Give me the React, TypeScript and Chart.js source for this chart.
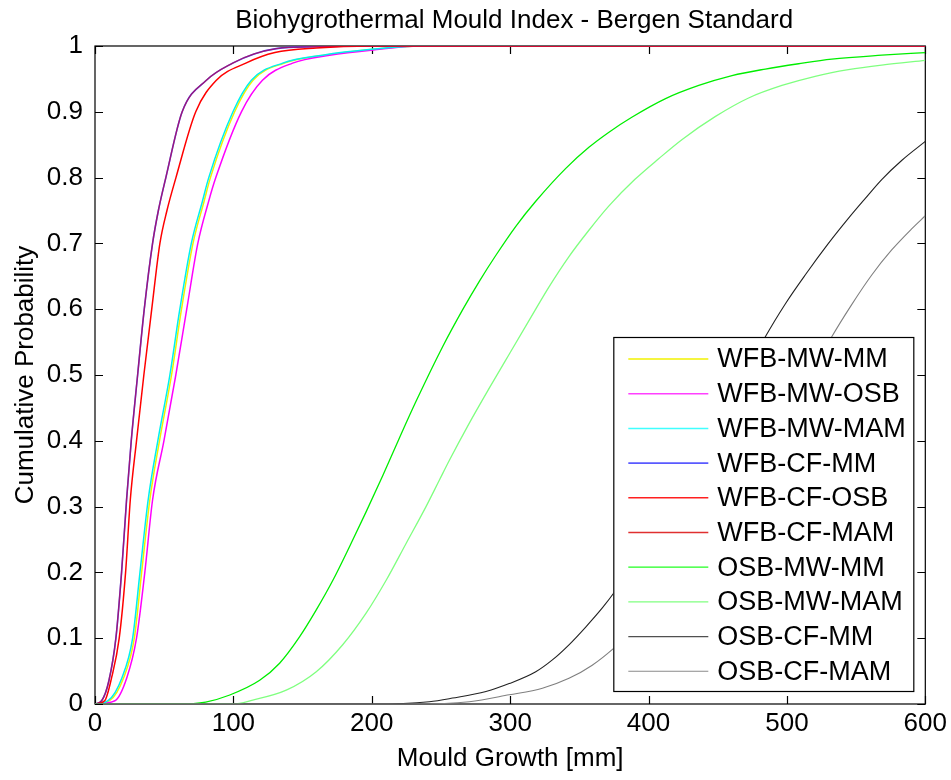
import React, { useEffect, useRef } from 'react';
import { Chart, registerables } from 'chart.js';

Chart.register(...registerables);

const FONT = "'Liberation Sans', Arial, Helvetica, sans-serif";
const TITLE = 'Biohygrothermal Mould Index - Bergen Standard';
const X_LABEL = 'Mould Growth [mm]';
const Y_LABEL = 'Cumulative Probability';

const X_MIN = 0;
const X_MAX = 600;
const X_STEP = 100;
const Y_MIN = 0;
const Y_MAX = 1;
const Y_STEP = 0.1;

const SERIES_LABELS = [
  'WFB-MW-MM',
  'WFB-MW-OSB',
  'WFB-MW-MAM',
  'WFB-CF-MM',
  'WFB-CF-OSB',
  'WFB-CF-MAM',
  'OSB-MW-MM',
  'OSB-MW-MAM',
  'OSB-CF-MM',
  'OSB-CF-MAM',
];
const SERIES_COLORS = [
  '#f2f200',
  '#ff00ff',
  '#00f0f0',
  '#3c3cff',
  '#ff0000',
  'rgba(215,0,40,0.62)',
  '#00ee00',
  '#80ff80',
  '#222222',
  '#808080',
];
const LEGEND_COLORS = [
  '#f2f200',
  '#ff40ff',
  '#40ffff',
  '#5a5aff',
  '#ff2020',
  '#e03030',
  '#20ff20',
  '#80ff80',
  '#505050',
  '#8a8a8a',
];
const SERIES_WIDTHS = [1.5, 1.5, 1.5, 1.6, 1.5, 1.4, 1.3, 1.3, 1.1, 1.1];

// WFB-MW-MM
const wfbMwMmX = [0, 10.5, 20.7, 28.4, 33.7, 39.6, 46.6, 55.3, 62.5, 70.8, 78.7, 83.4, 100.9, 114.2, 136.8, 165.6, 201, 235, 600];
const wfbMwMmY = [0, 0.005, 0.04, 0.1, 0.2, 0.31, 0.4, 0.5, 0.6, 0.7, 0.763, 0.8, 0.9, 0.948, 0.974, 0.986, 0.995, 1, 1];
// WFB-MW-OSB
const wfbMwOsbX = [0, 14.4, 23, 30, 36, 41.6, 49.8, 58.4, 66.3, 74.3, 82, 87.3, 105.8, 121, 142.8, 169.5, 205.5, 234.4, 600];
const wfbMwOsbY = [0, 0.005, 0.04, 0.1, 0.2, 0.31, 0.4, 0.5, 0.6, 0.7, 0.763, 0.8, 0.9, 0.948, 0.974, 0.986, 0.995, 1, 1];
// WFB-MW-MAM
const wfbMwMamX = [0, 9.4, 19.5, 27.2, 32.5, 38.4, 45.4, 54.1, 61.3, 69.6, 77.5, 82.2, 99.7, 113, 135.6, 164.4, 199.8, 234.4, 600];
const wfbMwMamY = [0, 0.005, 0.04, 0.1, 0.2, 0.31, 0.4, 0.5, 0.6, 0.7, 0.763, 0.8, 0.9, 0.948, 0.974, 0.986, 0.995, 1, 1];
// WFB-CF-MM
const wfbCfMmX = [0, 4.8, 10, 15.1, 19.2, 22.8, 26.2, 30.8, 35.6, 41.6, 45.8, 51.2, 63, 80.5, 99.5, 115, 131, 160, 200, 600];
const wfbCfMmY = [0, 0.005, 0.035, 0.1, 0.2, 0.31, 0.4, 0.5, 0.6, 0.7, 0.75, 0.8, 0.9, 0.948, 0.974, 0.988, 0.996, 0.999, 1, 1];
// WFB-CF-OSB
const wfbCfOsbX = [0, 7, 12, 17.5, 22.1, 25.5, 30, 35.3, 41, 46.9, 52, 58.5, 72.8, 87.7, 109, 130, 160, 200, 600];
const wfbCfOsbY = [0, 0.005, 0.04, 0.1, 0.2, 0.31, 0.4, 0.5, 0.6, 0.7, 0.75, 0.8, 0.9, 0.948, 0.974, 0.99, 0.997, 1, 1];
// WFB-CF-MAM
const wfbCfMamX = [0, 4.8, 10, 15.1, 19.2, 22.8, 26.2, 30.8, 35.6, 41.6, 45.8, 51.2, 63, 80.5, 99.5, 115, 131, 160, 200, 600];
const wfbCfMamY = [0, 0.005, 0.035, 0.1, 0.2, 0.31, 0.4, 0.5, 0.6, 0.7, 0.75, 0.8, 0.9, 0.948, 0.974, 0.988, 0.996, 0.999, 1, 1];
// OSB-MW-MM
const osbMwMmX = [0, 60, 80, 97.4, 119, 133.4, 147.8, 159.9, 171.9, 183.9, 195.9, 207.9, 219.9, 232, 251.2, 265.6, 277.6, 289.7, 304.1, 318.5, 340.2, 356.9, 371.4, 388.2, 412.3, 436.3, 460.3, 484.4, 508.4, 532.4, 568.5, 600];
const osbMwMmY = [0, 0, 0.003, 0.0137, 0.036, 0.062, 0.102, 0.143, 0.188, 0.239, 0.292, 0.347, 0.404, 0.46, 0.543, 0.599, 0.642, 0.682, 0.726, 0.764, 0.814, 0.846, 0.869, 0.892, 0.92, 0.94, 0.955, 0.965, 0.973, 0.98, 0.986, 0.99];
// OSB-MW-MAM
const osbMwMamX = [0, 100, 114, 138.2, 159.9, 179, 195.9, 210.4, 224.8, 239.2, 248.8, 256, 270, 284.9, 296.9, 313.7, 328.1, 342.5, 356.9, 371.4, 390, 407.5, 424.3, 448.4, 472.3, 496.4, 520.4, 544.4, 568.5, 600];
const osbMwMamY = [0, 0, 0.006, 0.021, 0.049, 0.09, 0.138, 0.188, 0.244, 0.3, 0.34, 0.37, 0.425, 0.48, 0.523, 0.583, 0.634, 0.68, 0.72, 0.757, 0.797, 0.829, 0.858, 0.893, 0.921, 0.94, 0.954, 0.964, 0.971, 0.978];
// OSB-CF-MM
const osbCfMmX = [0, 200, 241.6, 258.4, 282.5, 299.3, 318.5, 330.5, 342.5, 354.6, 366.6, 375, 400, 425, 450, 470, 484.4, 498.8, 513.2, 530, 544.4, 556.5, 568.5, 582.9, 600];
const osbCfMmY = [0, 0, 0.0035, 0.009, 0.019, 0.031, 0.049, 0.067, 0.09, 0.117, 0.146, 0.169, 0.25, 0.34, 0.43, 0.5, 0.558, 0.608, 0.652, 0.7, 0.738, 0.768, 0.797, 0.826, 0.855];
// OSB-CF-MAM
const osbCfMamX = [0, 230, 270.5, 299.3, 323.3, 342.5, 359.3, 375, 400, 430, 460, 490, 515, 532.4, 546.8, 561.3, 575.7, 590.1, 600];
const osbCfMamY = [0, 0, 0.0035, 0.014, 0.024, 0.039, 0.059, 0.085, 0.135, 0.21, 0.3, 0.4, 0.49, 0.558, 0.607, 0.652, 0.69, 0.722, 0.742];

const SERIES_X = [wfbMwMmX, wfbMwOsbX, wfbMwMamX, wfbCfMmX, wfbCfOsbX, wfbCfMamX, osbMwMmX, osbMwMamX, osbCfMmX, osbCfMamX];
const SERIES_Y = [wfbMwMmY, wfbMwOsbY, wfbMwMamY, wfbCfMmY, wfbCfOsbY, wfbCfMamY, osbMwMmY, osbMwMamY, osbCfMmY, osbCfMamY];

const framePlugin = {
  id: 'matlabFrame',
  beforeDatasetsDraw(chart: any) {
    const { ctx, chartArea: a, scales } = chart;
    const tl = 8;
    ctx.save();
    ctx.strokeStyle = '#000';
    ctx.lineWidth = 1.2;
    ctx.strokeRect(a.left, a.top, a.right - a.left, a.bottom - a.top);
    ctx.beginPath();
    scales.x.ticks.forEach((t: any) => {
      const px = Math.round(scales.x.getPixelForValue(t.value)) + 0.5;
      ctx.moveTo(px, a.bottom);
      ctx.lineTo(px, a.bottom - tl);
      ctx.moveTo(px, a.top);
      ctx.lineTo(px, a.top + tl);
    });
    scales.y.ticks.forEach((t: any) => {
      const py = Math.round(scales.y.getPixelForValue(t.value)) + 0.5;
      ctx.moveTo(a.left, py);
      ctx.lineTo(a.left + tl, py);
      ctx.moveTo(a.right, py);
      ctx.lineTo(a.right - tl, py);
    });
    ctx.stroke();
    ctx.restore();
  },
};

const legendPlugin = {
  id: 'matlabLegend',
  afterDatasetsDraw(chart: any) {
    const { ctx, chartArea: a } = chart;
    const right = a.right - 12;
    const bottom = a.bottom - 13;
    const w = 300;
    const h = 354;
    const left = right - w;
    const top = bottom - h;
    ctx.save();
    ctx.fillStyle = '#fff';
    ctx.fillRect(left, top, w, h);
    ctx.strokeStyle = '#000';
    ctx.lineWidth = 1.2;
    ctx.strokeRect(left + 0.5, top + 0.5, w, h);
    ctx.font = `27px ${FONT}`;
    ctx.textBaseline = 'middle';
    ctx.textAlign = 'left';
    const rowH = 34.7;
    chart.data.datasets.forEach((ds: any, i: number) => {
      const y = top + 22 + i * rowH;
      ctx.strokeStyle = LEGEND_COLORS[i];
      ctx.lineWidth = ds.borderWidth;
      ctx.beginPath();
      ctx.moveTo(left + 15, y);
      ctx.lineTo(left + 95, y);
      ctx.stroke();
      ctx.fillStyle = '#000';
      ctx.fillText(ds.label, left + 104, y + 1);
    });
    ctx.restore();
  },
};

const titlePlugin = {
  id: 'matlabTitle',
  afterDraw(chart: any) {
    const { ctx, chartArea: a } = chart;
    ctx.save();
    ctx.font = `26px ${FONT}`;
    ctx.fillStyle = '#000';
    ctx.textAlign = 'center';
    ctx.textBaseline = 'middle';
    ctx.fillText(TITLE, (a.left + a.right) / 2 + 4, 21);
    ctx.restore();
  },
};

export default function App() {
  const canvasRef = useRef<HTMLCanvasElement | null>(null);

  useEffect(() => {
    if (!canvasRef.current) return;
    Chart.defaults.color = '#000';
    const datasets = SERIES_LABELS.map((label, i) => ({
      label,
      data: SERIES_X[i].map((x, j) => ({ x, y: SERIES_Y[i][j] })),
      borderColor: SERIES_COLORS[i],
      backgroundColor: SERIES_COLORS[i],
      borderWidth: SERIES_WIDTHS[i],
      pointRadius: 0,
      tension: 0.3,
      cubicInterpolationMode: 'monotone' as const,
      fill: false,
      order: SERIES_LABELS.length - 1 - i,
    }));
    const chart = new Chart(canvasRef.current, {
      type: 'line',
      data: { datasets },
      plugins: [framePlugin, legendPlugin, titlePlugin],
      options: {
        animation: false,
        responsive: false,
        maintainAspectRatio: false,
        layout: { padding: { left: 0, top: 46, right: 24, bottom: 0 } },
        plugins: {
          legend: { display: false },
          tooltip: { enabled: false },
          title: { display: false },
        },
        scales: {
          x: {
            type: 'linear',
            min: X_MIN,
            max: X_MAX,
            ticks: {
              stepSize: X_STEP,
              autoSkip: false,
              maxRotation: 0,
              padding: 4,
              color: '#000',
              font: { family: FONT, size: 26 },
            },
            grid: { display: false, drawTicks: false },
            border: { display: false },
            title: {
              display: true,
              text: X_LABEL,
              color: '#000',
              font: { family: FONT, size: 26 },
              padding: { top: 0, bottom: 6 },
            },
            afterFit: (scale: any) => {
              scale.height = 76;
            },
          },
          y: {
            type: 'linear',
            min: Y_MIN,
            max: Y_MAX,
            ticks: {
              stepSize: Y_STEP,
              autoSkip: false,
              padding: 12,
              color: '#000',
              font: { family: FONT, size: 26 },
              callback: (v: any) => String(Math.round(Number(v) * 10) / 10),
            },
            grid: { display: false, drawTicks: false },
            border: { display: false },
            title: {
              display: true,
              text: Y_LABEL,
              color: '#000',
              font: { family: FONT, size: 26 },
              padding: { top: 10, bottom: 0 },
            },
            afterFit: (scale: any) => {
              scale.width = 95;
            },
          },
        },
      },
    });
    return () => chart.destroy();
  }, []);

  return (
    <div style={{ position: 'absolute', left: 0, top: 0, width: 951, height: 780, background: '#fff' }}>
      <canvas ref={canvasRef} width={951} height={780} style={{ display: 'block', width: 951, height: 780 }} />
    </div>
  );
}
